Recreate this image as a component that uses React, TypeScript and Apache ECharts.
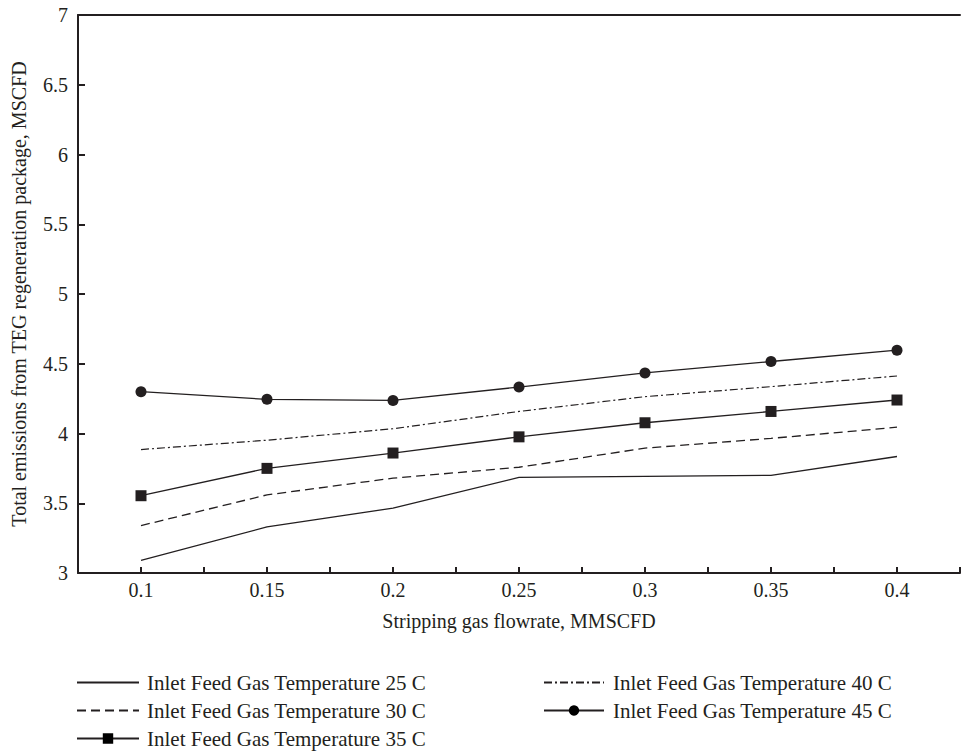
import React, { useEffect, useRef } from "react";
import * as echarts from "echarts";

const xValues = [0.1, 0.15, 0.2, 0.25, 0.3, 0.35, 0.4];
const temp25 = [3.09, 3.33, 3.465, 3.685, 3.693, 3.70, 3.835];
const temp30 = [3.34, 3.56, 3.68, 3.758, 3.895, 3.965, 4.045];
const temp35 = [3.554, 3.75, 3.86, 3.976, 4.077, 4.158, 4.24];
const temp40 = [3.885, 3.952, 4.034, 4.158, 4.264, 4.336, 4.412];
const temp45 = [4.30, 4.245, 4.237, 4.333, 4.434, 4.516, 4.597];
const seriesNames = [
  "Inlet Feed Gas Temperature 25 C",
  "Inlet Feed Gas Temperature 30 C",
  "Inlet Feed Gas Temperature 35 C",
  "Inlet Feed Gas Temperature 40 C",
  "Inlet Feed Gas Temperature 45 C",
];
const xTitle = "Stripping gas flowrate, MMSCFD";
const yTitle = "Total emissions from TEG regeneration package, MSCFD";

const INK = "#231f20";
const FONT = "Liberation Serif";

function pairs(ys: number[]) {
  return xValues.map((x, i) => [x, ys[i]]);
}

function legendItem(name: string, left: number, top: number, width: number, pad: number, hideSymbol: boolean) {
  return {
    data: [name],
    orient: "horizontal",
    left,
    top,
    itemWidth: width,
    itemHeight: 13,
    padding: 0,
    itemStyle: hideSymbol ? { color: "rgba(0,0,0,0)", borderWidth: 0, opacity: 0 } : undefined,
    textStyle: { fontSize: 21, color: INK, fontFamily: FONT, lineHeight: 21, padding: [0, 0, 0, pad] },
  };
}

export default function App() {
  const ref = useRef<HTMLDivElement>(null);
  useEffect(() => {
    if (!ref.current) return;
    const chart = echarts.init(ref.current, null, { renderer: "svg" });
    const base = {
      type: "line",
      color: INK,
      lineStyle: { color: INK, width: 1.3 },
      itemStyle: { color: INK },
      symbol: "none",
      z: 3,
    };
    chart.setOption({
      animation: false,
      backgroundColor: "#ffffff",
      textStyle: { fontFamily: FONT, color: INK },
      grid: { left: 78, top: 15, bottom: 181, right: -10 },
      xAxis: [
        {
          type: "value",
          min: 0.075,
          max: 0.425,
          interval: 0.025,
          name: xTitle,
          nameLocation: "middle",
          nameGap: 38,
          nameTextStyle: { fontSize: 20, color: INK, fontFamily: FONT },
          axisLine: { show: true, lineStyle: { color: INK, width: 2 } },
          axisTick: { show: true, inside: true, length: 6, lineStyle: { color: INK, width: 2 } },
          splitLine: { show: false },
          axisLabel: {
            fontSize: 20,
            color: INK,
            fontFamily: FONT,
            margin: 7,
            formatter: (v: number) => {
              const k = Math.round(v * 1000);
              if (k % 50 !== 0 || k < 100 || k > 400) return "";
              return String(Number((k / 1000).toFixed(2)));
            },
          },
        },
        {
          type: "value",
          position: "top",
          min: 0.075,
          max: 0.425,
          axisLine: { show: true, lineStyle: { color: INK, width: 2 } },
          axisTick: { show: false },
          axisLabel: { show: false },
          splitLine: { show: false },
        },
      ],
      yAxis: {
        type: "value",
        min: 3,
        max: 7,
        interval: 0.5,
        name: yTitle,
        nameLocation: "middle",
        nameGap: 49,
        nameTextStyle: { fontSize: 20, color: INK, fontFamily: FONT },
        axisLine: { show: true, lineStyle: { color: INK, width: 2 } },
        axisTick: { show: true, inside: true, length: 7, lineStyle: { color: INK, width: 2 } },
        splitLine: { show: false },
        axisLabel: { fontSize: 20, color: INK, fontFamily: FONT, margin: 10 },
      },
      legend: [
        legendItem(seriesNames[0], 76, 672, 62, 3, true),
        legendItem(seriesNames[1], 76, 700, 62, 3, true),
        legendItem(seriesNames[2], 76, 728, 62, 3, false),
        legendItem(seriesNames[3], 543, 672, 60, 4, true),
        legendItem(seriesNames[4], 543, 700, 60, 4, false),
      ],
      series: [
        { ...base, name: seriesNames[0], data: pairs(temp25) },
        {
          ...base,
          name: seriesNames[1],
          data: pairs(temp30),
          lineStyle: { color: INK, width: 1.3, type: [9, 5] },
        },
        {
          ...base,
          name: seriesNames[2],
          data: pairs(temp35),
          symbol: "rect",
          symbolSize: 11,
          showSymbol: true,
        },
        {
          ...base,
          name: seriesNames[3],
          data: pairs(temp40),
          lineStyle: { color: INK, width: 1.2, type: [8, 3, 2, 3] },
        },
        {
          ...base,
          name: seriesNames[4],
          data: pairs(temp45),
          symbol: "circle",
          symbolSize: 11,
          showSymbol: true,
        },
      ],
    });
    return () => chart.dispose();
  }, []);
  return (
    <div
      ref={ref}
      style={{ position: "fixed", left: 0, top: 0, width: 963, height: 754, background: "#fff" }}
    />
  );
}
